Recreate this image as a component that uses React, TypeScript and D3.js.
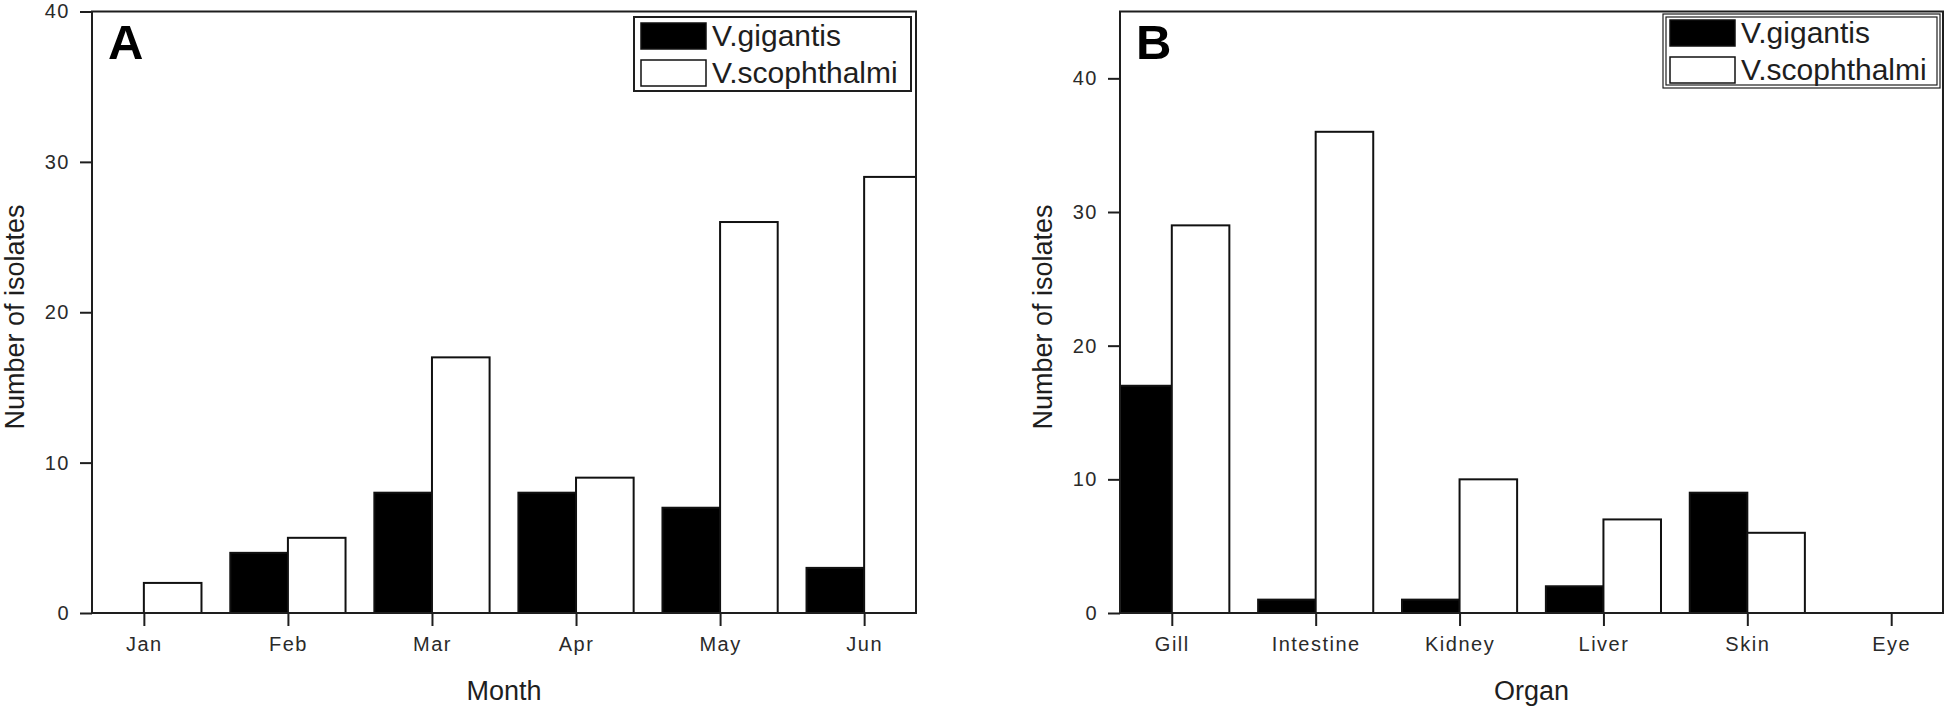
import { useRef, useEffect } from "react";
import * as d3 from "d3";

const months = ["Jan", "Feb", "Mar", "Apr", "May", "Jun"];
const monthGigantis = [0, 4, 8, 8, 7, 3];
const monthScophthalmi = [2, 5, 17, 9, 26, 29];
const monthTicks = [0, 10, 20, 30, 40];

const organs = ["Gill", "Intestine", "Kidney", "Liver", "Skin", "Eye"];
const organGigantis = [17, 1, 1, 2, 9, 0];
const organScophthalmi = [29, 36, 10, 7, 6, 0];
const organTicks = [0, 10, 20, 30, 40];

const seriesNames = ["V.gigantis", "V.scophthalmi"];
const seriesFills = ["#000", "#fff"];

const width = 1946;
const height = 708;
const font = "'Liberation Sans', Arial, sans-serif";
const ink = "#1e1e1e";

function drawPanel(svg, p) {
  const g = svg.append("g");
  const top = 11.5;
  const bottom = 613;

  const x = d3.scalePoint().domain(p.categories).range([p.left, p.right]).padding(0.36);
  const y = d3.scaleLinear().domain([0, p.yMax]).range([bottom, top]);
  const barW = x.step() * 0.4;

  const clipId = "clip-" + p.letter;
  g.append("clipPath")
    .attr("id", clipId)
    .append("rect")
    .attr("x", p.left)
    .attr("y", top)
    .attr("width", p.right - p.left)
    .attr("height", bottom - top);

  // bars, black series left of the tick, white series right of it
  const bars = g.append("g").attr("clip-path", `url(#${clipId})`);
  [p.gigantis, p.scophthalmi].forEach((vals, s) => {
    bars
      .selectAll(null)
      .data(p.categories.map((c, i) => ({ c, v: vals[i] })).filter((d) => d.v > 0))
      .enter()
      .append("rect")
      .attr("x", (d) => x(d.c) - (s === 0 ? barW : 0))
      .attr("y", (d) => y(d.v))
      .attr("width", barW)
      .attr("height", (d) => bottom - y(d.v))
      .attr("fill", seriesFills[s])
      .attr("stroke", "#111")
      .attr("stroke-width", 2);
  });

  // frame
  g.append("rect")
    .attr("x", p.left)
    .attr("y", top)
    .attr("width", p.right - p.left)
    .attr("height", bottom - top)
    .attr("fill", "none")
    .attr("stroke", ink)
    .attr("stroke-width", 2);

  const yAxis = g
    .append("g")
    .attr("transform", `translate(${p.left},0)`)
    .call(d3.axisLeft(y).tickValues(p.ticks).tickSize(12).tickPadding(10));
  const xAxis = g
    .append("g")
    .attr("transform", `translate(0,${bottom})`)
    .call(d3.axisBottom(x).tickSize(13).tickPadding(11));

  [yAxis, xAxis].forEach((a) => {
    a.select(".domain").remove();
    a.selectAll("line").attr("stroke", ink).attr("stroke-width", 2);
    a.selectAll("text")
      .attr("fill", "#2a2a2a")
      .attr("font-family", font)
      .attr("font-size", 20)
      .attr("letter-spacing", "1.5px");
  });

  g.append("text")
    .attr("transform", `translate(${p.left - 68},317) rotate(-90)`)
    .attr("text-anchor", "middle")
    .attr("font-family", font)
    .attr("font-size", 27)
    .attr("fill", ink)
    .text("Number of isolates");

  g.append("text")
    .attr("x", (p.left + p.right) / 2)
    .attr("y", 700)
    .attr("text-anchor", "middle")
    .attr("font-family", font)
    .attr("font-size", 27)
    .attr("fill", ink)
    .text(p.xTitle);

  g.append("text")
    .attr("x", p.left + 16)
    .attr("y", 59)
    .attr("font-family", font)
    .attr("font-weight", "bold")
    .attr("font-size", 49)
    .attr("fill", "#000")
    .text(p.letter);

  // legend
  const lg = g.append("g").attr("transform", `translate(${p.legendX},${p.legendY})`);
  lg.append("rect")
    .attr("width", 277)
    .attr("height", 74)
    .attr("fill", "#fff")
    .attr("stroke", ink)
    .attr("stroke-width", p.doubleBox ? 1.2 : 2);
  if (p.doubleBox) {
    lg.append("rect")
      .attr("x", 3)
      .attr("y", 3)
      .attr("width", 271)
      .attr("height", 68)
      .attr("fill", "none")
      .attr("stroke", ink)
      .attr("stroke-width", 1.2);
  }
  seriesNames.forEach((name, i) => {
    lg.append("rect")
      .attr("x", 7)
      .attr("y", 6 + i * 37)
      .attr("width", 65)
      .attr("height", 26)
      .attr("fill", seriesFills[i])
      .attr("stroke", "#111")
      .attr("stroke-width", 1.5);
    lg.append("text")
      .attr("x", 78)
      .attr("y", 29 + i * 37)
      .attr("font-family", font)
      .attr("font-size", 30)
      .attr("fill", ink)
      .text(name);
  });
}

function App() {
  const svgRef = useRef(null);
  useEffect(() => {
    const svg = d3.select(svgRef.current);
    svg.selectAll("*").remove();
    drawPanel(svg, {
      letter: "A",
      categories: months,
      gigantis: monthGigantis,
      scophthalmi: monthScophthalmi,
      ticks: monthTicks,
      yMax: 40,
      left: 92,
      right: 916,
      xTitle: "Month",
      legendX: 634,
      legendY: 17,
      doubleBox: false,
    });
    drawPanel(svg, {
      letter: "B",
      categories: organs,
      gigantis: organGigantis,
      scophthalmi: organScophthalmi,
      ticks: organTicks,
      yMax: 45,
      left: 1120,
      right: 1943,
      xTitle: "Organ",
      legendX: 1663,
      legendY: 14,
      doubleBox: true,
    });
  }, []);
  return (
    <div style={{ position: "absolute", left: 0, top: 0, background: "#fff" }}>
      <svg ref={svgRef} width={width} height={height} style={{ display: "block" }} />
    </div>
  );
}

export default App;
